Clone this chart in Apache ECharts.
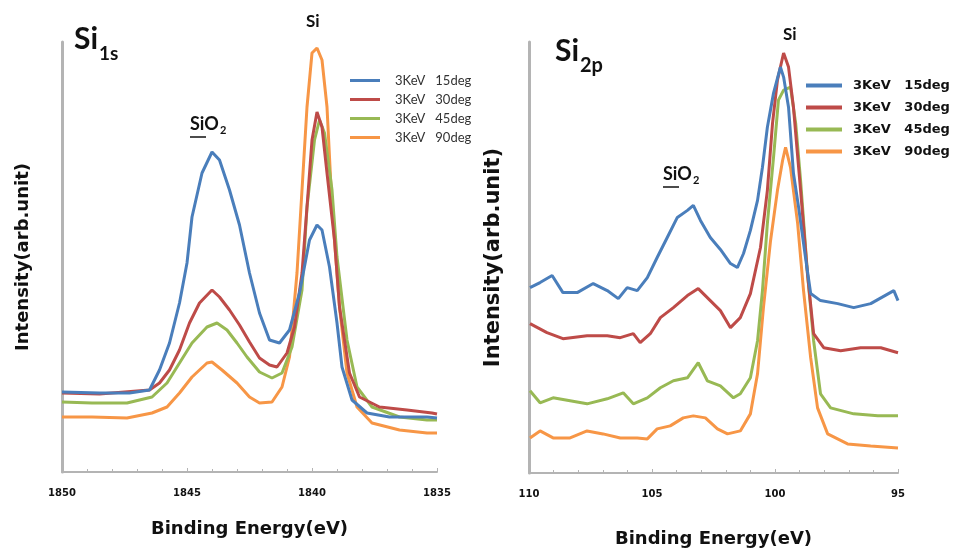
<!DOCTYPE html>
<html>
<head>
<meta charset="utf-8">
<script src="https://cdn.jsdelivr.net/npm/echarts@6/dist/echarts.min.js"></script>
<style>
  html, body { margin: 0; padding: 0; background: #fff; }
  #chart { width: 962px; height: 550px; }
</style>
</head>
<body>
<div id="chart"></div>
<script>
// series names (shared by both panels)
var seriesNames = ['3KeV   15deg', '3KeV   30deg', '3KeV   45deg', '3KeV   90deg'];
var colors = ['#4a7ebb', '#be4b48', '#98b954', '#f79646'];

// Si 1s panel: [binding energy (eV), intensity (arb.)]
var si1s15 = [[1850,80],[1848.5,79],[1847.3,79],[1846.5,82],[1846.1,102],[1845.7,129],[1845.3,169],[1845.0,209],[1844.8,255],[1844.4,299],[1844.0,320],[1843.7,312],[1843.3,282],[1842.9,247],[1842.5,199],[1842.1,159],[1841.7,132],[1841.3,129],[1840.9,142],[1840.5,179],[1840.1,232],[1839.8,247],[1839.6,242],[1839.3,205],[1839.0,149],[1838.8,105],[1838.4,72],[1837.8,59],[1836.9,55],[1836.2,55],[1835.4,55],[1835.0,54]];
var si1s30 = [[1850,79],[1848.5,78],[1846.5,82],[1846.1,89],[1845.7,102],[1845.3,122],[1844.9,149],[1844.5,169],[1844.0,182],[1843.7,175],[1843.3,162],[1842.9,147],[1842.5,130],[1842.1,114],[1841.7,107],[1841.4,105],[1841.0,119],[1840.7,145],[1840.4,199],[1840.2,265],[1840.0,332],[1839.8,360],[1839.6,345],[1839.4,299],[1839.1,232],[1838.9,165],[1838.5,99],[1838.1,75],[1837.3,65],[1836.2,62],[1835.2,59],[1835.0,58]];
var si1s45 = [[1850,70],[1848.8,69],[1847.4,69],[1846.4,75],[1845.8,89],[1845.3,109],[1844.8,129],[1844.2,145],[1843.8,149],[1843.4,142],[1843.0,129],[1842.6,115],[1842.1,100],[1841.6,94],[1841.2,99],[1840.8,125],[1840.4,182],[1840.2,265],[1839.9,332],[1839.7,352],[1839.5,339],[1839.2,282],[1839.0,215],[1838.6,132],[1838.2,85],[1837.6,65],[1836.5,55],[1835.4,52],[1835.0,52]];
var si1s90 = [[1850,55],[1848.8,55],[1847.4,54],[1846.4,59],[1845.8,65],[1845.3,79],[1844.8,95],[1844.2,109],[1844.0,110],[1843.6,102],[1843.0,89],[1842.5,75],[1842.1,69],[1841.6,70],[1841.2,85],[1840.9,115],[1840.6,199],[1840.4,282],[1840.2,365],[1840.0,419],[1839.8,424],[1839.6,412],[1839.4,365],[1839.2,265],[1838.9,165],[1838.6,99],[1838.2,65],[1837.6,49],[1836.5,42],[1835.4,39],[1835.0,39]];

// Si 2p panel
var si2p15 = [[109.96,185],[109.55,190],[109.06,197],[108.62,180],[108.04,180],[107.39,189],[106.82,182],[106.37,174],[106.01,185],[105.6,182],[105.19,195],[104.79,215],[104.38,235],[103.97,255],[103.56,262],[103.32,267],[103.03,252],[102.63,235],[102.22,223],[101.81,209],[101.53,205],[101.28,219],[101.0,242],[100.71,272],[100.51,305],[100.31,345],[100.06,379],[99.78,405],[99.65,395],[99.45,365],[99.25,299],[99.04,265],[98.76,215],[98.55,179],[98.15,172],[97.45,169],[96.8,165],[96.11,169],[95.17,182],[95.0,172]];
var si2p30 = [[109.96,149],[109.27,140],[108.62,134],[107.64,137],[106.82,137],[106.29,135],[105.76,139],[105.48,130],[105.07,139],[104.66,155],[104.13,165],[103.56,177],[103.12,184],[102.63,172],[102.22,162],[101.81,145],[101.41,155],[101.0,179],[100.59,225],[100.31,282],[100.1,349],[99.9,392],[99.65,419],[99.45,405],[99.25,365],[98.96,282],[98.68,199],[98.43,139],[98.02,125],[97.33,122],[96.52,125],[95.7,125],[95.0,120]];
var si2p45 = [[109.96,82],[109.55,70],[109.02,75],[108.33,72],[107.64,69],[106.82,74],[106.17,80],[105.76,69],[105.19,75],[104.66,85],[104.13,92],[103.56,95],[103.12,110],[102.75,92],[102.22,87],[101.69,75],[101.41,79],[101.0,95],[100.71,132],[100.51,182],[100.31,249],[100.06,315],[99.86,372],[99.65,382],[99.37,385],[99.16,349],[98.96,292],[98.68,199],[98.43,132],[98.15,79],[97.74,65],[96.8,59],[95.82,57],[95.0,57]];
var si2p90 = [[109.96,35],[109.55,42],[109.02,35],[108.33,35],[107.64,42],[106.99,39],[106.29,35],[105.6,35],[105.19,34],[104.79,44],[104.26,47],[103.73,55],[103.32,57],[102.83,55],[102.34,44],[101.93,39],[101.41,42],[101.0,59],[100.71,99],[100.47,165],[100.18,232],[99.9,282],[99.69,312],[99.57,325],[99.37,305],[99.08,249],[98.84,182],[98.55,115],[98.27,65],[97.86,39],[97.05,29],[96.11,27],[95.0,25]];

var xRangeLeft = [1850, 1835];
var xRangeRight = [110, 95];

var FONT = 'Lato, "Open Sans", sans-serif';
var WIDE = '"DejaVu Sans", sans-serif';
var chart = echarts.init(document.getElementById('chart'));

function xAxisFor(gridIndex, range) {
    return {
        type: 'value',
        gridIndex: gridIndex,
        min: range[1],
        max: range[0],
        interval: 5,
        inverse: true,
        name: 'Binding Energy(eV)',
        nameLocation: 'middle',
        nameGap: gridIndex === 0 ? 48 : 57,
        nameTextStyle: { fontFamily: WIDE, fontWeight: 'bold', fontSize: 18, color: '#111' },
        axisLine: { lineStyle: { color: '#b4b4b4', width: 2 } },
        axisTick: { inside: true, length: 4, lineStyle: { color: '#b4b4b4' } },
        minorTick: { show: true, splitNumber: 5, length: 3, lineStyle: { color: '#b4b4b4' } },
        splitLine: { show: false },
        axisLabel: {
            fontFamily: WIDE, fontWeight: 'bold', fontSize: 10, color: '#111', margin: 16,
            formatter: function (v) { return String(v); }
        }
    };
}

function yAxisFor(gridIndex) {
    return {
        type: 'value',
        gridIndex: gridIndex,
        min: 0,
        max: 430,
        name: 'Intensity(arb.unit)',
        nameLocation: 'middle',
        nameGap: gridIndex === 0 ? 30 : 25,
        nameTextStyle: { fontFamily: WIDE, fontWeight: 'bold', fontSize: gridIndex === 0 ? 18 : 21, color: '#111' },
        axisLine: { show: true, lineStyle: { color: '#b4b4b4', width: 3 } },
        axisTick: { show: false },
        axisLabel: { show: false },
        splitLine: { show: false }
    };
}

function lineSeries(name, data, idx, axisIdx) {
    return {
        name: name,
        type: 'line',
        xAxisIndex: axisIdx,
        yAxisIndex: axisIdx,
        data: data,
        showSymbol: false,
        symbol: 'none',
        lineStyle: { width: 3, color: colors[idx] },
        itemStyle: { color: colors[idx] },
        z: 10 - idx
    };
}

var option = {
    animation: false,
    backgroundColor: '#fff',
    color: colors,
    grid: [
        { left: 62, right: 525, top: 42, bottom: 78, outerBoundsMode: 'none' },
        { left: 529, right: 64, top: 42, bottom: 77, outerBoundsMode: 'none' }
    ],
    xAxis: [xAxisFor(0, xRangeLeft), xAxisFor(1, xRangeRight)],
    yAxis: [yAxisFor(0), yAxisFor(1)],
    legend: [
        {
            data: seriesNames,
            orient: 'vertical',
            left: 345,
            top: 69,
            itemGap: 6,
            itemWidth: 30,
            itemHeight: 3,
            icon: 'rect',
            textStyle: { fontFamily: FONT, fontSize: 13, color: '#333', padding: [0, 0, 0, 10] }
        },
        {
            data: seriesNames,
            orient: 'vertical',
            left: 801,
            top: 74,
            itemGap: 9,
            itemWidth: 36,
            itemHeight: 4,
            icon: 'rect',
            textStyle: { fontFamily: WIDE, fontSize: 13, fontWeight: 'bold', color: '#111', padding: [0, 0, 0, 6] }
        }
    ],
    graphic: [
        { type: 'text', left: 74, top: 24, style: { text: 'Si', font: 'bold 30px ' + FONT, fill: '#111' } },
        { type: 'text', left: 99, top: 44, style: { text: '1s', font: 'bold 19px ' + FONT, fill: '#111' } },
        { type: 'text', left: 555, top: 36, style: { text: 'Si', font: 'bold 30px ' + FONT, fill: '#111' } },
        { type: 'text', left: 580, top: 56, style: { text: '2p', font: 'bold 20px ' + FONT, fill: '#111' } },
        { type: 'text', left: 190, top: 115, style: { text: 'SiO', font: 'bold 18px ' + FONT, fill: '#111' } },
        { type: 'text', left: 220, top: 125, style: { text: '2', font: 'bold 11px ' + FONT, fill: '#111' } },
        { type: 'line', shape: { x1: 190, y1: 137, x2: 206, y2: 137 }, style: { stroke: '#111', lineWidth: 1.5 } },
        { type: 'text', left: 663, top: 165, style: { text: 'SiO', font: 'bold 18px ' + FONT, fill: '#111' } },
        { type: 'text', left: 693, top: 175, style: { text: '2', font: 'bold 11px ' + FONT, fill: '#111' } },
        { type: 'line', shape: { x1: 663, y1: 187, x2: 679, y2: 187 }, style: { stroke: '#111', lineWidth: 1.5 } },
        { type: 'text', left: 306, top: 13, style: { text: 'Si', font: 'bold 17px ' + FONT, fill: '#111' } },
        { type: 'text', left: 783, top: 26, style: { text: 'Si', font: 'bold 17px ' + FONT, fill: '#111' } }
    ],
    series: [
        lineSeries(seriesNames[0], si1s15, 0, 0),
        lineSeries(seriesNames[1], si1s30, 1, 0),
        lineSeries(seriesNames[2], si1s45, 2, 0),
        lineSeries(seriesNames[3], si1s90, 3, 0),
        lineSeries(seriesNames[0], si2p15, 0, 1),
        lineSeries(seriesNames[1], si2p30, 1, 1),
        lineSeries(seriesNames[2], si2p45, 2, 1),
        lineSeries(seriesNames[3], si2p90, 3, 1)
    ]
};

chart.setOption(option);
</script>
</body>
</html>
